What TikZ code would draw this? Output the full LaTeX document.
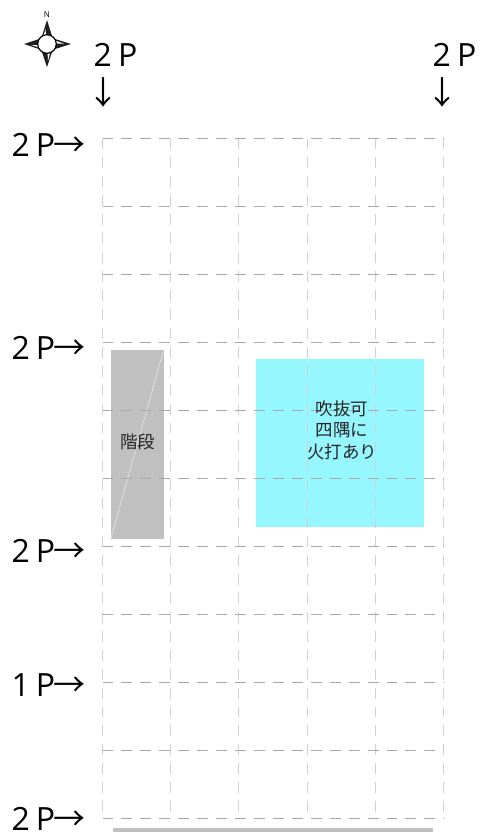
\documentclass[tikz,border=0pt]{standalone}
\usepackage{fontspec}
\setmainfont{Open Sans}
\newfontfamily\jpfont{Noto Sans CJK JP}
\definecolor{stairgray}{HTML}{C0C0C0}
\definecolor{voidcyan}{HTML}{96F7FF}
\tikzset{
    hline/.style={draw=black!34,line width=0.7pt,dash pattern=on 8.2pt off 6pt},
    vline/.style={draw=black!18,line width=1.3pt,dash pattern=on 8.2pt off 6pt},
    mark2p/.style={font=\fontsize{24}{24}\selectfont,inner sep=0pt},
    markarrow/.style={font=\jpfont\fontsize{24}{24}\selectfont,inner sep=0pt},
    jplabel/.style={font=\jpfont\fontsize{13.1}{16.2}\selectfont,align=center,inner sep=0pt,text=black!85},
    compassfill/.style={fill=black!88},
}
\begin{document}
\begin{tikzpicture}[x=0.75pt,y=-0.75pt]
        \useasboundingbox (0,0) rectangle (479,832);
        %% stairs and void
        \fill[stairgray] (110.5,349.5) rectangle (164,538.5);
        \draw[white!70!stairgray,line width=0.4pt] (111,538) -- (163,352);
        \fill[voidcyan] (256,359) rectangle (424,527);
        %% grid
        \foreach \gx in {102.5,170.5,238.5,307.5,375.5,443.5}
            \draw[vline] (\gx,138.5) -- (\gx,818.5);
        \foreach \gy in {138.5,206.5,...,818.5}
            \draw[hline] (102.5,\gy) -- (443.5,\gy);
        %% bottom wall
        \fill[stairgray] (113,828) rectangle (433,832);
        %% labels
        \node[jplabel] (stairs) at (137.5,441.5) {階段};
        \node[jplabel] (void) at (342,430) {吹抜可\\四隅に\\火打あり};
        %% top marks
        \node[mark2p,anchor=base] (topA) at (115.5,66) {2\,\kern0.5pt P};
        \node[markarrow] (topAarrow) at (103.5,92) {↓};
        \node[mark2p,anchor=base] (topB) at (454.5,66) {2\,\kern0.5pt P};
        \node[markarrow] (topBarrow) at (442.5,92) {↓};
        %% side marks
        \foreach \sname/\num/\sy in {a/2/156.5,b/2/359.5,c/2/562.5,d/1/696.5,e/2/830}
            \node[mark2p,anchor=base east] (side\sname) at (86,\sy) {\num\,\kern0.5pt P\kern-1pt{\jpfont →}};
        %% compass
        \node[font=\fontsize{6}{6}\selectfont\rmfamily,inner sep=0pt] (north) at (47,14.5) {N};
        \fill[compassfill] (47,20) -- (42,36) -- (52,36) -- cycle;
        \fill[compassfill] (47,67) -- (42,52) -- (52,52) -- cycle;
        \fill[compassfill] (24,44) -- (39,39) -- (39,49) -- cycle;
        \fill[compassfill] (71,44) -- (55,39) -- (55,49) -- cycle;
        \fill[white] (48,61) -- (50.5,51) -- (47.5,51) -- cycle;
        \fill[white] (64,43.5) -- (55,40.5) -- (55,43.5) -- cycle;
        \fill[white] (31,45) -- (39,47.5) -- (39,45) -- cycle;
        \fill[white] (45.5,29) -- (43.5,35.5) -- (46,35.5) -- cycle;
        \draw[black,line width=0.9pt,fill=white] (47,44) circle (9.3);
\end{tikzpicture}
\end{document}
